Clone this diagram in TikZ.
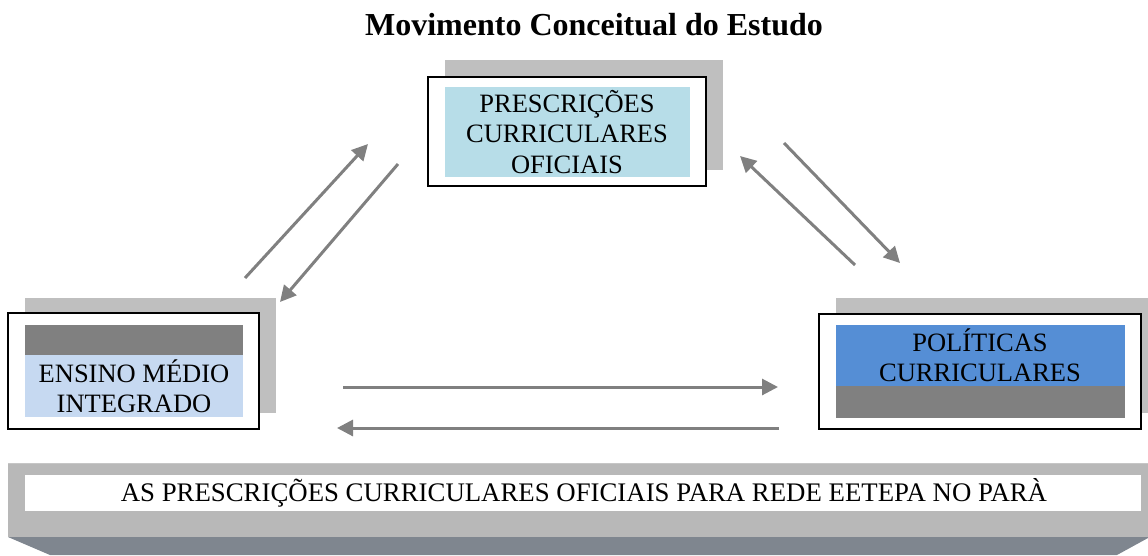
\documentclass[tikz,border=0pt]{standalone}
\usepackage{fontspec}
\setmainfont{Liberation Serif}
\usetikzlibrary{arrows.meta}

\definecolor{shadowgray}{HTML}{BFBFBF}
\definecolor{bandgray}{HTML}{808080}
\definecolor{paleblue}{HTML}{B7DDE8}
\definecolor{lightblue}{HTML}{C6D9F1}
\definecolor{midblue}{HTML}{558ED5}
\definecolor{slabgray}{HTML}{B8B8B8}
\definecolor{slabdark}{HTML}{7F868F}

\tikzset{
  flow/.style={draw=bandgray, line width=3pt, -{Triangle[length=16pt,width=16pt]}},
  boxtext/.style={align=center, font=\fontsize{26.5}{30.5}\selectfont, inner sep=0pt},
  frame/.style={draw=black, fill=white, line width=2pt}
}

\begin{document}
\begin{tikzpicture}[x=1pt,y=-1pt]
\useasboundingbox (0,0) rectangle (1148,555);

\node [font=\bfseries\fontsize{32}{36}\selectfont] (title) at (594,25) {Movimento Conceitual do Estudo};

% top box
\fill [shadowgray] (445,60) rectangle (723,170);
\draw [frame] (428,77) rectangle (706,186);
\fill [paleblue] (445,87) rectangle (690,177);
\node [boxtext] (presc) at (567,132) {PRESCRIÇÕES\\CURRICULARES\\OFICIAIS};

% left box
\fill [shadowgray] (25,298) rectangle (276,413);
\draw [frame] (8,313) rectangle (259,429);
\fill [bandgray] (25,325) rectangle (243,355);
\fill [lightblue] (25,355) rectangle (243,417);
\node [boxtext] (ensino) at (134,386) {ENSINO MÉDIO\\INTEGRADO};

% right box
\fill [shadowgray] (836,298) rectangle (1148,413);
\draw [frame] (819,314) rectangle (1141,429);
\fill [midblue] (836,325) rectangle (1125,386);
\fill [bandgray] (836,386) rectangle (1125,418);
\node [boxtext] (politicas) at (980,355) {POLÍTICAS\\CURRICULARES};

% bottom slab
\fill [slabdark] (8,537) -- (1148,537) -- (1148,538) -- (1117,555) -- (50,555) -- cycle ;
\fill [slabgray] (8,463) rectangle (1148,537);
\draw [gray!45, line width=1.5pt] (8,463.5) -- (1148,463.5);
\fill [white] (25,475) rectangle (1141,511);
\node [boxtext, font=\fontsize{26.8}{30.5}\selectfont] (rede) at (584,493) {AS PRESCRIÇÕES CURRICULARES OFICIAIS PARA REDE EETEPA NO PARÀ};

% arrow ends
\coordinate (ensUp) at (245,278);
\coordinate (presLow) at (368,144);
\coordinate (presOut) at (398,164);
\coordinate (ensIn) at (280,302);
\coordinate (presRight) at (784,143);
\coordinate (polIn) at (900,263);
\coordinate (polUp) at (855,265);
\coordinate (presIn) at (740,156);
\coordinate (ensRight) at (343,387);
\coordinate (polLeft) at (778,387);
\coordinate (polBack) at (779,428);
\coordinate (ensBack) at (337,428);

\draw [flow] (ensUp) to (presLow) ;
\draw [flow] (presOut) to (ensIn) ;
\draw [flow] (presRight) to (polIn) ;
\draw [flow] (polUp) to (presIn) ;
\draw [flow] (ensRight) to (polLeft) ;
\draw [flow] (polBack) to (ensBack) ;

\end{tikzpicture}
\end{document}
